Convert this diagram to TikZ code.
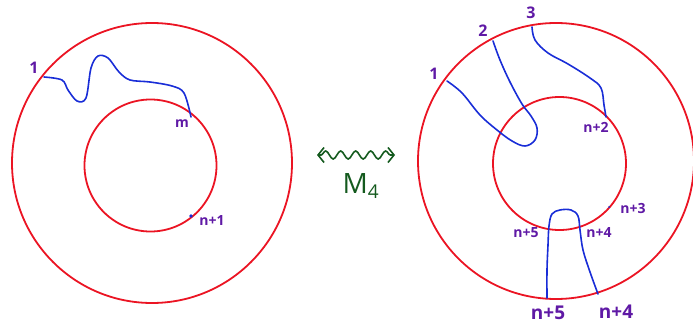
\documentclass[tikz,border=0pt]{standalone}
\usepackage{fontspec}
\setmainfont{Open Sans}
\usetikzlibrary{decorations.pathmorphing,arrows.meta}
\definecolor{ringred}{RGB}{235,20,35}
\definecolor{arcblue}{RGB}{25,45,215}
\definecolor{labpurple}{RGB}{95,25,165}
\definecolor{darkgreen}{RGB}{20,90,30}
\tikzset{
  ring/.style={draw=ringred, line width=1.8pt},
  arc/.style={draw=arcblue, line width=1.6pt, line cap=round, line join=round},
  lab/.style={text=labpurple, font=\bfseries\fontsize{14}{14}\selectfont, inner sep=0pt},
  biglab/.style={text=labpurple, font=\bfseries\fontsize{19}{19}\selectfont, inner sep=0pt},
  diglab/.style={text=labpurple, font=\bfseries\fontsize{16}{16}\selectfont, inner sep=0pt},
}
\begin{document}
\begin{tikzpicture}[x=1pt,y=-1pt]
\useasboundingbox (0,0) rectangle (693,329);
% left figure
\node[ring, circle, minimum size=280pt, inner sep=0pt] (LO) at (152,163) {};
\node[ring, circle, minimum size=132pt, inner sep=0pt] (LI) at (150.5,165.5) {};
\coordinate (l1) at (44,77);
\coordinate (lm) at (191,117);
\draw[arc] plot[smooth, tension=0.55] coordinates {(44,77) (62,80) (68,90) (77,101) (86,98) (91,68) (98,56) (108,58) (119,72) (130,80) (150,82) (172,86) (184,93) (191,117)};
\fill[arcblue] (191,216) circle (1.8pt);
\node[diglab] (L1) at (34,68) {1};
\node[lab] (Lm) at (182,124) {m};
\node[lab] (Ln1) at (212,221) {n+1};
% middle
\node[text=darkgreen, font=\fontsize{28}{28}\selectfont, inner sep=0pt] (M4) at (361,186) {M\textsubscript{\fontsize{19}{19}\selectfont 4}};
\coordinate (wa) at (317,155);
\coordinate (wb) at (395,155);
\draw[darkgreen, line width=1.6pt, {Straight Barb[length=6pt,width=15pt]}-{Straight Barb[length=6pt,width=15pt]},
  decorate, decoration={snake, amplitude=4pt, segment length=15pt, pre length=4pt, post length=4pt}] (wa) -- (wb);
% right figure
\node[ring, circle, minimum size=276pt, inner sep=0pt] (RO) at (556,161) {};
\node[ring, circle, minimum size=133pt, inner sep=0pt] (RI) at (559.5,163.5) {};
\coordinate (r1) at (447,81);
\coordinate (r2) at (493,41);
\coordinate (r3) at (532,27);
\coordinate (rn2) at (606,117);
\coordinate (r5o) at (547,298);
\coordinate (r4o) at (598,294);
\draw[arc] plot[smooth, tension=0.6] coordinates {(447,81) (462,93) (480,115) (497,130) (512,141) (525,146) (535,140) (537,128) (531,116) (522,104) (510,82) (500,60) (493,41)};
\draw[arc] plot[smooth, tension=0.6] coordinates {(532,27) (535,40) (548,53) (568,64) (590,78) (601,88) (604,105) (606,117)};
\draw[arc] plot[smooth, tension=0.6] coordinates {(547,298) (547,270) (548,245) (549,226) (552,214) (560,210) (571,210) (578,216) (580,230) (583,250) (590,272) (598,294)};
\fill[arcblue] (609,207) circle (1pt);
\node[diglab] (R1) at (434,74) {1};
\node[diglab] (R2) at (483,31) {2};
\node[diglab] (R3) at (531,13) {3};
\node[lab] (Rn2) at (596,127) {n+2};
\node[lab] (Rn3) at (633,208) {n+3};
\node[lab] (Rn5i) at (526,233) {n+5};
\node[lab] (Rn4i) at (599,233) {n+4};
\node[biglab] (Rn5o) at (548,313) {n+5};
\node[biglab] (Rn4o) at (616,312) {n+4};
\end{tikzpicture}
\end{document}
